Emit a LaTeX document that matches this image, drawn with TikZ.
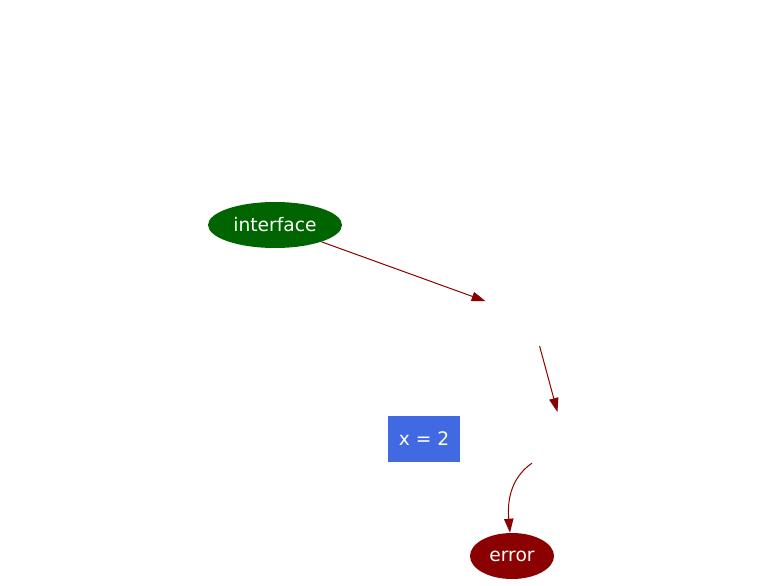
\documentclass[tikz,border=0pt]{standalone}
\usepackage{fontspec}
\setmainfont{DejaVu Sans}
\usetikzlibrary{shapes.geometric, arrows.meta}

\definecolor{gvgreen}{HTML}{006400}
\definecolor{gvred}{HTML}{8B0000}
\definecolor{gvblue}{HTML}{4169E1}

\tikzset{
    blob/.style={ellipse, inner sep=0pt, minimum height=34.5pt, text=white},
    hidden/.style={ellipse, inner sep=0pt, minimum width=86pt, minimum height=42pt},
    edge/.style={draw=gvred, line width=0.75pt, -{Triangle[length=10.5pt, width=7pt]}}
}

\begin{document}
\begin{tikzpicture}[x=0.75pt, y=-0.75pt, font=\fontsize{14}{17}\selectfont]
        \useasboundingbox (0, 0) rectangle (780, 585);
        \node[blob, fill=gvgreen, minimum width=100.5pt] (iface) at (275, 225) {interface};
        \node[hidden] (h1) at (532, 318) {};
        \node[hidden] (h2) at (565, 440) {};
        \node[rectangle, fill=gvblue, text=white, minimum width=54pt, minimum height=34.5pt] (xval) at (424, 439) {x = 2};
        \node[blob, fill=gvred, minimum width=63pt] (err) at (512, 556) {error};

        \draw[edge] (iface) -- (h1);
        \draw[edge] (h1) -- (h2);
        \draw[edge] (h2) to[out=215, in=95] (err);
    \end{tikzpicture}
\end{document}
